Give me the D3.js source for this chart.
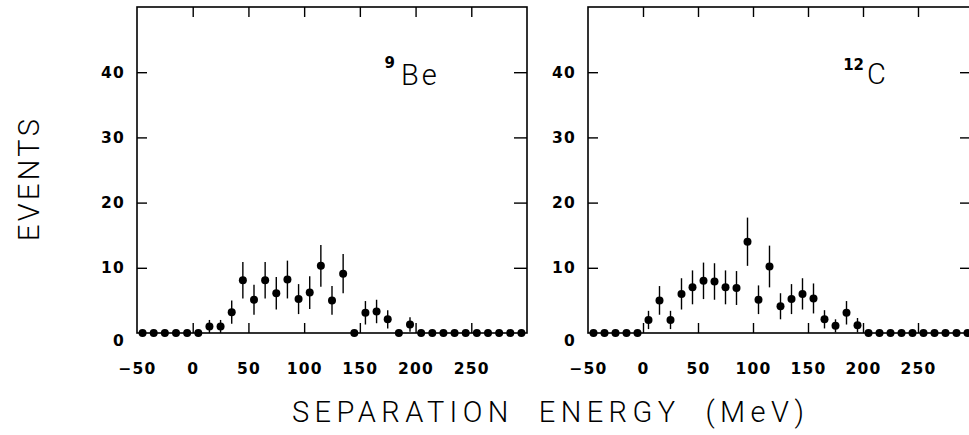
<!DOCTYPE html>
<html>
<head>
<meta charset="utf-8">
<script src="https://cdn.jsdelivr.net/npm/d3@7/dist/d3.min.js"></script>
<style>
  html, body { margin: 0; padding: 0; background: #fff; }
  svg { display: block; }
</style>
</head>
<body>
<svg id="chart" width="969" height="435"></svg>
<script>
// ---------- data ----------
const binCenters = [-45, -35, -25, -15, -5, 5, 15, 25, 35, 45, 55, 65, 75, 85, 95, 105, 115, 125, 135, 145,
                    155, 165, 175, 185, 195, 205, 215, 225, 235, 245, 255, 265, 275, 285, 295];
const be9Counts = [0, 0, 0, 0, 0, 0, 1, 1, 3.2, 8.1, 5.1, 8.1, 6.1, 8.2, 5.2, 6.2, 10.3, 5.0, 9.1, 0,
                   3.1, 3.3, 2.1, 0, 1.3, 0, 0, 0, 0, 0, 0, 0, 0, 0, 0];
const be9Errors = [0, 0, 0, 0, 0, 0, 1.0, 1.0, 1.8, 2.8, 2.3, 2.8, 2.5, 2.9, 2.3, 2.5, 3.2, 2.2, 3.0, 0,
                   1.8, 1.8, 1.4, 0, 1.1, 0, 0, 0, 0, 0, 0, 0, 0, 0, 0];
const c12Counts = [0, 0, 0, 0, 0, 2.0, 5.0, 2.0, 6.0, 7.0, 8.0, 7.9, 7.0, 6.9, 14.0, 5.1, 10.2, 4.1, 5.2, 6.0,
                   5.3, 2.1, 1.1, 3.1, 1.2, 0, 0, 0, 0, 0, 0, 0, 0, 0, 0];
const c12Errors = [0, 0, 0, 0, 0, 1.4, 2.2, 1.4, 2.4, 2.6, 2.8, 2.8, 2.6, 2.6, 3.7, 2.2, 3.2, 2.0, 2.3, 2.4,
                   2.3, 1.4, 1.0, 1.8, 1.1, 0, 0, 0, 0, 0, 0, 0, 0, 0, 0];
const xTicks = [-50, 0, 50, 100, 150, 200, 250];
const xInnerTicks = [0, 50, 100, 150, 200, 250];
const yTicks = [0, 10, 20, 30, 40];
const yInnerTicks = [10, 20, 30, 40];
const xDomain = [-50, 300];
const yDomain = [0, 50];
const panelNames = [{ sup: "9", base: "Be" }, { sup: "12", base: "C" }];
const xTitle = "SEPARATION  ENERGY  (MeV)";
const yTitle = "EVENTS";

// ---------- layout ----------
const svg = d3.select("#chart");
const plotTop = 7, plotBottom = 333;
const panels = [
  { left: 137, right: 527, counts: be9Counts, errors: be9Errors, name: panelNames[0],
    supX: 395, supY: 68, labelX: 401, labelY: 85 },
  { left: 588, right: 973, counts: c12Counts, errors: c12Errors, name: panelNames[1],
    supX: 864, supY: 70, labelX: 867, labelY: 84 }
];
const tickFont = "'DejaVu Sans', sans-serif";
const thinFont = "Roboto, 'Liberation Sans', sans-serif";

panels.forEach(p => {
  const x = d3.scaleLinear().domain(xDomain).range([p.left, p.right]);
  const y = d3.scaleLinear().domain(yDomain).range([plotBottom, plotTop]);
  const g = svg.append("g");

  // bottom axis (ticks inward, labels below)
  const ax = g.append("g").attr("transform", `translate(0,${plotBottom})`)
    .call(d3.axisBottom(x).tickValues(xTicks).tickSize(-10).tickPadding(30)
      .tickFormat(d => d < 0 ? "\u2212" + Math.abs(d) : d));
  ax.select(".domain").remove();
  ax.selectAll(".tick line").attr("stroke", "#000").attr("stroke-width", 1.4)
    .attr("display", d => d === -50 ? "none" : null);
  ax.selectAll(".tick text").attr("font-family", tickFont).attr("font-weight", "bold")
    .attr("font-size", 15.5).attr("fill", "#000").attr("letter-spacing", 1.2);

  // top axis (ticks only)
  const at = g.append("g").attr("transform", `translate(0,${plotTop})`)
    .call(d3.axisTop(x).tickValues(xInnerTicks).tickSize(-10).tickFormat(""));
  at.select(".domain").remove();
  at.selectAll(".tick line").attr("stroke", "#000").attr("stroke-width", 1.4);

  // left axis (ticks inward, labels)
  const al = g.append("g").attr("transform", `translate(${p.left},0)`)
    .call(d3.axisLeft(y).tickValues(yTicks).tickSize(-10).tickPadding(12));
  al.select(".domain").remove();
  al.selectAll(".tick line").attr("stroke", "#000").attr("stroke-width", 1.4)
    .attr("display", d => d === 0 ? "none" : null);
  al.selectAll(".tick text").attr("font-family", tickFont).attr("font-weight", "bold")
    .attr("font-size", 15.5).attr("fill", "#000").attr("letter-spacing", 1.2)
    .attr("dy", d => d === 0 ? "0.8em" : "0.32em");

  // right axis (ticks only)
  const ar = g.append("g").attr("transform", `translate(${p.right},0)`)
    .call(d3.axisRight(y).tickValues(yInnerTicks).tickSize(-13).tickFormat(""));
  ar.select(".domain").remove();
  ar.selectAll(".tick line").attr("stroke", "#000").attr("stroke-width", 1.4);

  // frame
  g.append("rect").attr("x", p.left).attr("y", plotTop)
    .attr("width", p.right - p.left).attr("height", plotBottom - plotTop)
    .attr("fill", "none").attr("stroke", "#000").attr("stroke-width", 1.6);

  // data
  const pts = binCenters.map((c, i) => ({ x: c, v: p.counts[i], e: p.errors[i] }));
  g.selectAll("line.err").data(pts.filter(d => d.e > 0)).enter().append("line")
    .attr("class", "err")
    .attr("x1", d => x(d.x)).attr("x2", d => x(d.x))
    .attr("y1", d => y(d.v + d.e)).attr("y2", d => y(Math.max(0, d.v - d.e)))
    .attr("stroke", "#000").attr("stroke-width", 1.4);
  g.selectAll("circle.pt").data(pts).enter().append("circle")
    .attr("class", "pt")
    .attr("cx", d => x(d.x)).attr("cy", d => y(d.v)).attr("r", 4)
    .attr("fill", "#000");

  // nucleus label: superscript mass number + element symbol
  g.append("text").attr("x", p.supX).attr("y", p.supY)
    .attr("text-anchor", "end")
    .attr("font-family", tickFont).attr("font-weight", "bold").attr("font-size", 15)
    .attr("fill", "#000").text(p.name.sup);
  g.append("text").attr("x", p.labelX).attr("y", p.labelY)
    .attr("font-family", thinFont).attr("font-weight", 300).attr("font-size", 29)
    .attr("fill", "#000").attr("letter-spacing", 3).text(p.name.base);
});

// axis titles
svg.append("text")
  .attr("transform", "translate(39,180) rotate(-90)")
  .attr("text-anchor", "middle")
  .attr("font-family", thinFont).attr("font-weight", 300).attr("font-size", 29)
  .attr("textLength", 122).attr("lengthAdjust", "spacing").attr("fill", "#000")
  .text(yTitle);

svg.append("text")
  .attr("x", 548).attr("y", 422)
  .attr("text-anchor", "middle")
  .attr("font-family", thinFont).attr("font-weight", 300).attr("font-size", 29)
  .attr("textLength", 512).attr("lengthAdjust", "spacing").attr("fill", "#000")
  .style("white-space", "pre")
  .text(xTitle);
</script>
</body>
</html>
